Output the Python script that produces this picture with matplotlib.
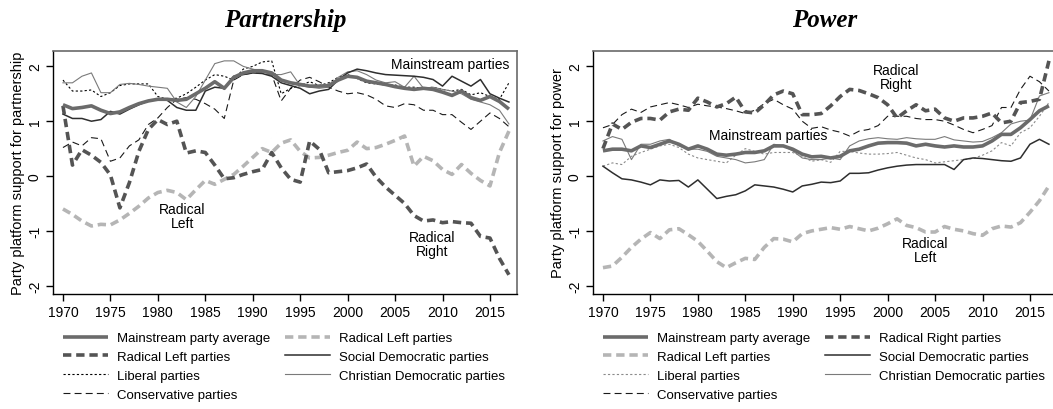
import matplotlib
matplotlib.use('Agg')
import matplotlib.pyplot as plt

plt.rcParams['font.family'] = ['Liberation Sans', 'DejaVu Sans']
plt.rcParams['lines.scale_dashes'] = False

years = list(range(1970, 2018))

# --- Partnership panel ---
p_mainstream = [1.30, 1.23, 1.25, 1.28, 1.20, 1.14, 1.17, 1.25, 1.32, 1.37, 1.40, 1.40, 1.38, 1.40, 1.50, 1.60,
                1.72, 1.60, 1.80, 1.88, 1.92, 1.92, 1.88, 1.75, 1.70, 1.67, 1.64, 1.64, 1.65, 1.75, 1.82, 1.80,
                1.73, 1.70, 1.67, 1.63, 1.60, 1.58, 1.60, 1.58, 1.53, 1.47, 1.55, 1.43, 1.38, 1.45, 1.36, 1.22]
p_radical_right = [1.28, 0.20, 0.48, 0.38, 0.25, 0.02, -0.58, -0.12, 0.45, 0.85, 1.03, 0.94, 1.00, 0.42, 0.46, 0.43,
                   0.20, -0.05, -0.03, 0.03, 0.08, 0.12, 0.43, 0.15, -0.06, -0.11, 0.64, 0.49, 0.06, 0.08, 0.10, 0.15,
                   0.22, -0.02, -0.20, -0.35, -0.50, -0.72, -0.82, -0.80, -0.85, -0.83, -0.85, -0.86, -1.10, -1.13, -1.50, -1.80]
p_radical_left = [-0.60, -0.70, -0.82, -0.91, -0.88, -0.89, -0.80, -0.68, -0.55, -0.40, -0.30, -0.26, -0.30, -0.43, -0.25, -0.08,
                  -0.15, -0.06, 0.03, 0.18, 0.34, 0.50, 0.43, 0.60, 0.66, 0.45, 0.33, 0.34, 0.38, 0.43, 0.47, 0.62,
                  0.50, 0.52, 0.58, 0.65, 0.73, 0.18, 0.36, 0.28, 0.12, 0.03, 0.21, 0.05, -0.08, -0.18, 0.43, 0.82]
p_social_dem = [1.13, 1.05, 1.05, 1.00, 1.03, 1.18, 1.13, 1.22, 1.30, 1.37, 1.40, 1.38, 1.25, 1.20, 1.20, 1.55,
                1.62, 1.60, 1.82, 1.85, 1.88, 1.87, 1.82, 1.70, 1.65, 1.60, 1.50, 1.55, 1.58, 1.75, 1.88, 1.95,
                1.92, 1.88, 1.85, 1.84, 1.83, 1.82, 1.80, 1.76, 1.64, 1.82, 1.73, 1.64, 1.76, 1.50, 1.42, 1.35]
p_liberal = [1.75, 1.55, 1.55, 1.57, 1.45, 1.52, 1.65, 1.68, 1.68, 1.68, 1.45, 1.40, 1.42, 1.50, 1.62, 1.75,
             1.85, 1.82, 1.75, 1.95, 2.00, 2.08, 2.10, 1.50, 1.60, 1.65, 1.72, 1.65, 1.70, 1.80, 1.85, 1.78,
             1.70, 1.68, 1.66, 1.66, 1.62, 1.62, 1.60, 1.62, 1.58, 1.55, 1.58, 1.48, 1.52, 1.45, 1.40, 1.70]
p_christian_dem = [1.70, 1.70, 1.82, 1.88, 1.52, 1.52, 1.67, 1.69, 1.67, 1.64, 1.62, 1.60, 1.35, 1.25, 1.45, 1.75,
                   2.05, 2.10, 2.10, 2.00, 1.95, 1.90, 1.85, 1.85, 1.90, 1.65, 1.62, 1.60, 1.62, 1.80, 1.90, 1.92,
                   1.85, 1.75, 1.70, 1.72, 1.62, 1.82, 1.60, 1.62, 1.58, 1.55, 1.50, 1.40, 1.35, 1.30, 1.20, 0.95]
p_conservative = [0.52, 0.62, 0.55, 0.70, 0.68, 0.27, 0.33, 0.55, 0.66, 0.94, 1.06, 1.25, 1.40, 1.43, 1.40, 1.32,
                  1.22, 1.05, 1.75, 1.85, 1.88, 1.88, 1.85, 1.37, 1.60, 1.75, 1.80, 1.72, 1.62, 1.55, 1.50, 1.52,
                  1.48, 1.40, 1.28, 1.25, 1.32, 1.30, 1.20, 1.20, 1.12, 1.12, 0.98, 0.85, 1.00, 1.15, 1.05, 0.90]

# --- Power panel ---
w_mainstream = [0.46, 0.49, 0.49, 0.46, 0.55, 0.52, 0.58, 0.64, 0.58, 0.49, 0.55, 0.49, 0.40, 0.38, 0.40, 0.43,
                0.43, 0.46, 0.55, 0.55, 0.49, 0.40, 0.35, 0.36, 0.33, 0.36, 0.46, 0.49, 0.55, 0.60, 0.61, 0.61,
                0.60, 0.55, 0.58, 0.55, 0.53, 0.55, 0.53, 0.53, 0.55, 0.64, 0.76, 0.76, 0.88, 1.03, 1.19, 1.28]
w_radical_right = [0.50, 0.95, 0.85, 0.98, 1.05, 1.05, 1.02, 1.17, 1.22, 1.20, 1.42, 1.35, 1.26, 1.32, 1.44, 1.17,
                   1.15, 1.30, 1.48, 1.55, 1.50, 1.12, 1.12, 1.14, 1.28, 1.45, 1.58, 1.56, 1.50, 1.43, 1.30, 1.06,
                   1.19, 1.30, 1.19, 1.22, 1.06, 1.00, 1.06, 1.06, 1.09, 1.15, 0.97, 1.00, 1.34, 1.36, 1.40, 2.10]
w_radical_left = [-1.67, -1.64, -1.48, -1.30, -1.15, -1.03, -1.14, -0.98, -0.96, -1.07, -1.19, -1.37, -1.56, -1.67, -1.58, -1.50,
                  -1.52, -1.30, -1.14, -1.15, -1.20, -1.05, -1.00, -0.97, -0.94, -0.97, -0.92, -0.96, -1.00, -0.95, -0.87, -0.78,
                  -0.90, -0.94, -1.02, -1.02, -0.92, -0.97, -1.00, -1.05, -1.08, -0.96, -0.91, -0.93, -0.85, -0.66, -0.45, -0.18]
w_social_dem = [0.18, 0.06, -0.05, -0.07, -0.11, -0.16, -0.07, -0.09, -0.08, -0.20, -0.07, -0.24, -0.41, -0.37, -0.34, -0.27,
                -0.16, -0.18, -0.20, -0.24, -0.29, -0.18, -0.15, -0.11, -0.12, -0.09, 0.05, 0.05, 0.06, 0.11, 0.15, 0.18,
                0.20, 0.21, 0.21, 0.21, 0.21, 0.12, 0.30, 0.33, 0.32, 0.30, 0.28, 0.27, 0.33, 0.58, 0.67, 0.58]
w_liberal = [0.18, 0.24, 0.21, 0.36, 0.43, 0.49, 0.55, 0.58, 0.52, 0.40, 0.33, 0.30, 0.27, 0.24, 0.38, 0.50,
             0.45, 0.40, 0.43, 0.43, 0.43, 0.36, 0.27, 0.30, 0.25, 0.45, 0.45, 0.42, 0.40, 0.40, 0.41, 0.43,
             0.38, 0.33, 0.30, 0.24, 0.26, 0.28, 0.30, 0.32, 0.38, 0.46, 0.61, 0.55, 0.79, 0.88, 1.09, 1.34]
w_christian_dem = [0.64, 0.72, 0.67, 0.30, 0.58, 0.58, 0.64, 0.67, 0.55, 0.49, 0.49, 0.45, 0.36, 0.33, 0.30, 0.24,
                   0.26, 0.30, 0.58, 0.55, 0.46, 0.33, 0.30, 0.30, 0.33, 0.30, 0.55, 0.64, 0.68, 0.70, 0.68, 0.67,
                   0.70, 0.68, 0.67, 0.67, 0.72, 0.66, 0.64, 0.62, 0.63, 0.70, 0.79, 0.95, 1.00, 1.02, 1.46, 1.52]
w_conservative = [0.88, 0.94, 1.12, 1.22, 1.16, 1.26, 1.30, 1.34, 1.30, 1.25, 1.31, 1.28, 1.26, 1.23, 1.19, 1.14,
                  1.20, 1.32, 1.40, 1.30, 1.22, 1.00, 0.87, 0.90, 0.84, 0.80, 0.73, 0.82, 0.85, 0.92, 1.09, 1.09,
                  1.09, 1.05, 1.03, 1.03, 1.00, 0.93, 0.85, 0.79, 0.85, 0.92, 1.25, 1.25, 1.58, 1.82, 1.72, 1.55]

xticks = list(range(1970, 2016, 5))
yticks = [-2, -1, 0, 1, 2]

THICK_DASH = (0, (6, 3.5))
DOT = (0, (1.6, 1.6))
DASH = (0, (5, 3))


def style_axes(ax, title, ylabel):
    ax.set_xlim(1968.95, 2017.85)
    ax.set_ylim(-2.15, 2.28)
    ax.set_xticks(xticks)
    ax.set_yticks(yticks)
    ax.set_yticklabels([str(v) for v in yticks], rotation=90, va='center')
    ax.tick_params(axis='both', direction='out', length=5, width=1, labelsize=10, colors='black', pad=3)
    for side in ['left', 'bottom']:
        ax.spines[side].set_color('black')
        ax.spines[side].set_linewidth(1.0)
    for side in ['top', 'right']:
        ax.spines[side].set_color('#6a6a6a')
        ax.spines[side].set_linewidth(1.2)
    ax.set_ylabel(ylabel, fontsize=10.5, labelpad=2)
    ax.set_title(title, fontsize=18, fontfamily='Liberation Serif', fontweight='bold', fontstyle='italic', pad=18)


def draw_panel(ax, mainstream, rad_light, rad_dark, social, liberal, christian, conservative, liberal_color):
    h_cons, = ax.plot(years, conservative, color='#1a1a1a', lw=0.8, linestyle=DASH)
    h_lib, = ax.plot(years, liberal, color=liberal_color, lw=0.8, linestyle=DOT)
    h_cd, = ax.plot(years, christian, color='#7a7a7a', lw=0.8)
    h_sd, = ax.plot(years, social, color='#2e2e2e', lw=1.1)
    h_light, = ax.plot(years, rad_light, color='#b5b5b5', lw=2.6, linestyle=THICK_DASH)
    h_dark, = ax.plot(years, rad_dark, color='#545454', lw=2.6, linestyle=THICK_DASH)
    h_main, = ax.plot(years, mainstream, color='#6b6b6b', lw=2.6, solid_capstyle='butt')
    return h_main, h_light, h_dark, h_sd, h_lib, h_cd, h_cons


def add_legend(fig, handles, labels, x0):
    fig.legend(handles, labels, ncol=2, loc='upper left', bbox_to_anchor=(x0 / 1053, 1 - 333 / 410),
               frameon=False, fontsize=9.5, handlelength=3.4, handletextpad=0.7, columnspacing=1.1,
               labelspacing=0.5, borderpad=0, borderaxespad=0)


fig = plt.figure(figsize=(10.53, 4.10), dpi=100)
ax1 = fig.add_axes([53 / 1053, 115 / 410, 464 / 1053, 243 / 410])
ax2 = fig.add_axes([593 / 1053, 115 / 410, 464 / 1053, 243 / 410])

# Partnership
hm, hlight, hdark, hsd, hlib, hcd, hcons = draw_panel(
    ax1, p_mainstream, p_radical_left, p_radical_right,
    p_social_dem, p_liberal, p_christian_dem, p_conservative, 'black')
style_axes(ax1, 'Partnership', 'Party platform support for partnership')
ax1.text(2010.8, 2.05, 'Mainstream parties', ha='center', va='center', fontsize=10)
ax1.text(1982.6, -0.73, 'Radical\nLeft', ha='center', va='center', fontsize=10, linespacing=1.0)
ax1.text(2008.9, -1.23, 'Radical\nRight', ha='center', va='center', fontsize=10, linespacing=1.0)
# the source labels the dark dashed line "Radical Left parties" too
add_legend(fig, [hm, hdark, hlib, hcons, hlight, hsd, hcd],
           ['Mainstream party average', 'Radical Left parties', 'Liberal parties', 'Conservative parties',
            'Radical Left parties', 'Social Democratic parties', 'Christian Democratic parties'], 63)

# Power
hm2, hlight2, hdark2, hsd2, hlib2, hcd2, hcons2 = draw_panel(
    ax2, w_mainstream, w_radical_left, w_radical_right,
    w_social_dem, w_liberal, w_christian_dem, w_conservative, '#8a8a8a')
style_axes(ax2, 'Power', 'Party platform support for power')
ax2.text(2000.9, 1.80, 'Radical\nRight', ha='center', va='center', fontsize=10, linespacing=1.0)
ax2.text(1987.4, 0.74, 'Mainstream parties', ha='center', va='center', fontsize=10)
ax2.text(2004.0, -1.35, 'Radical\nLeft', ha='center', va='center', fontsize=10, linespacing=1.0)
add_legend(fig, [hm2, hlight2, hlib2, hcons2, hdark2, hsd2, hcd2],
           ['Mainstream party average', 'Radical Left parties', 'Liberal parties', 'Conservative parties',
            'Radical Right parties', 'Social Democratic parties', 'Christian Democratic parties'], 603)

fig.savefig('out.png', dpi=100)
